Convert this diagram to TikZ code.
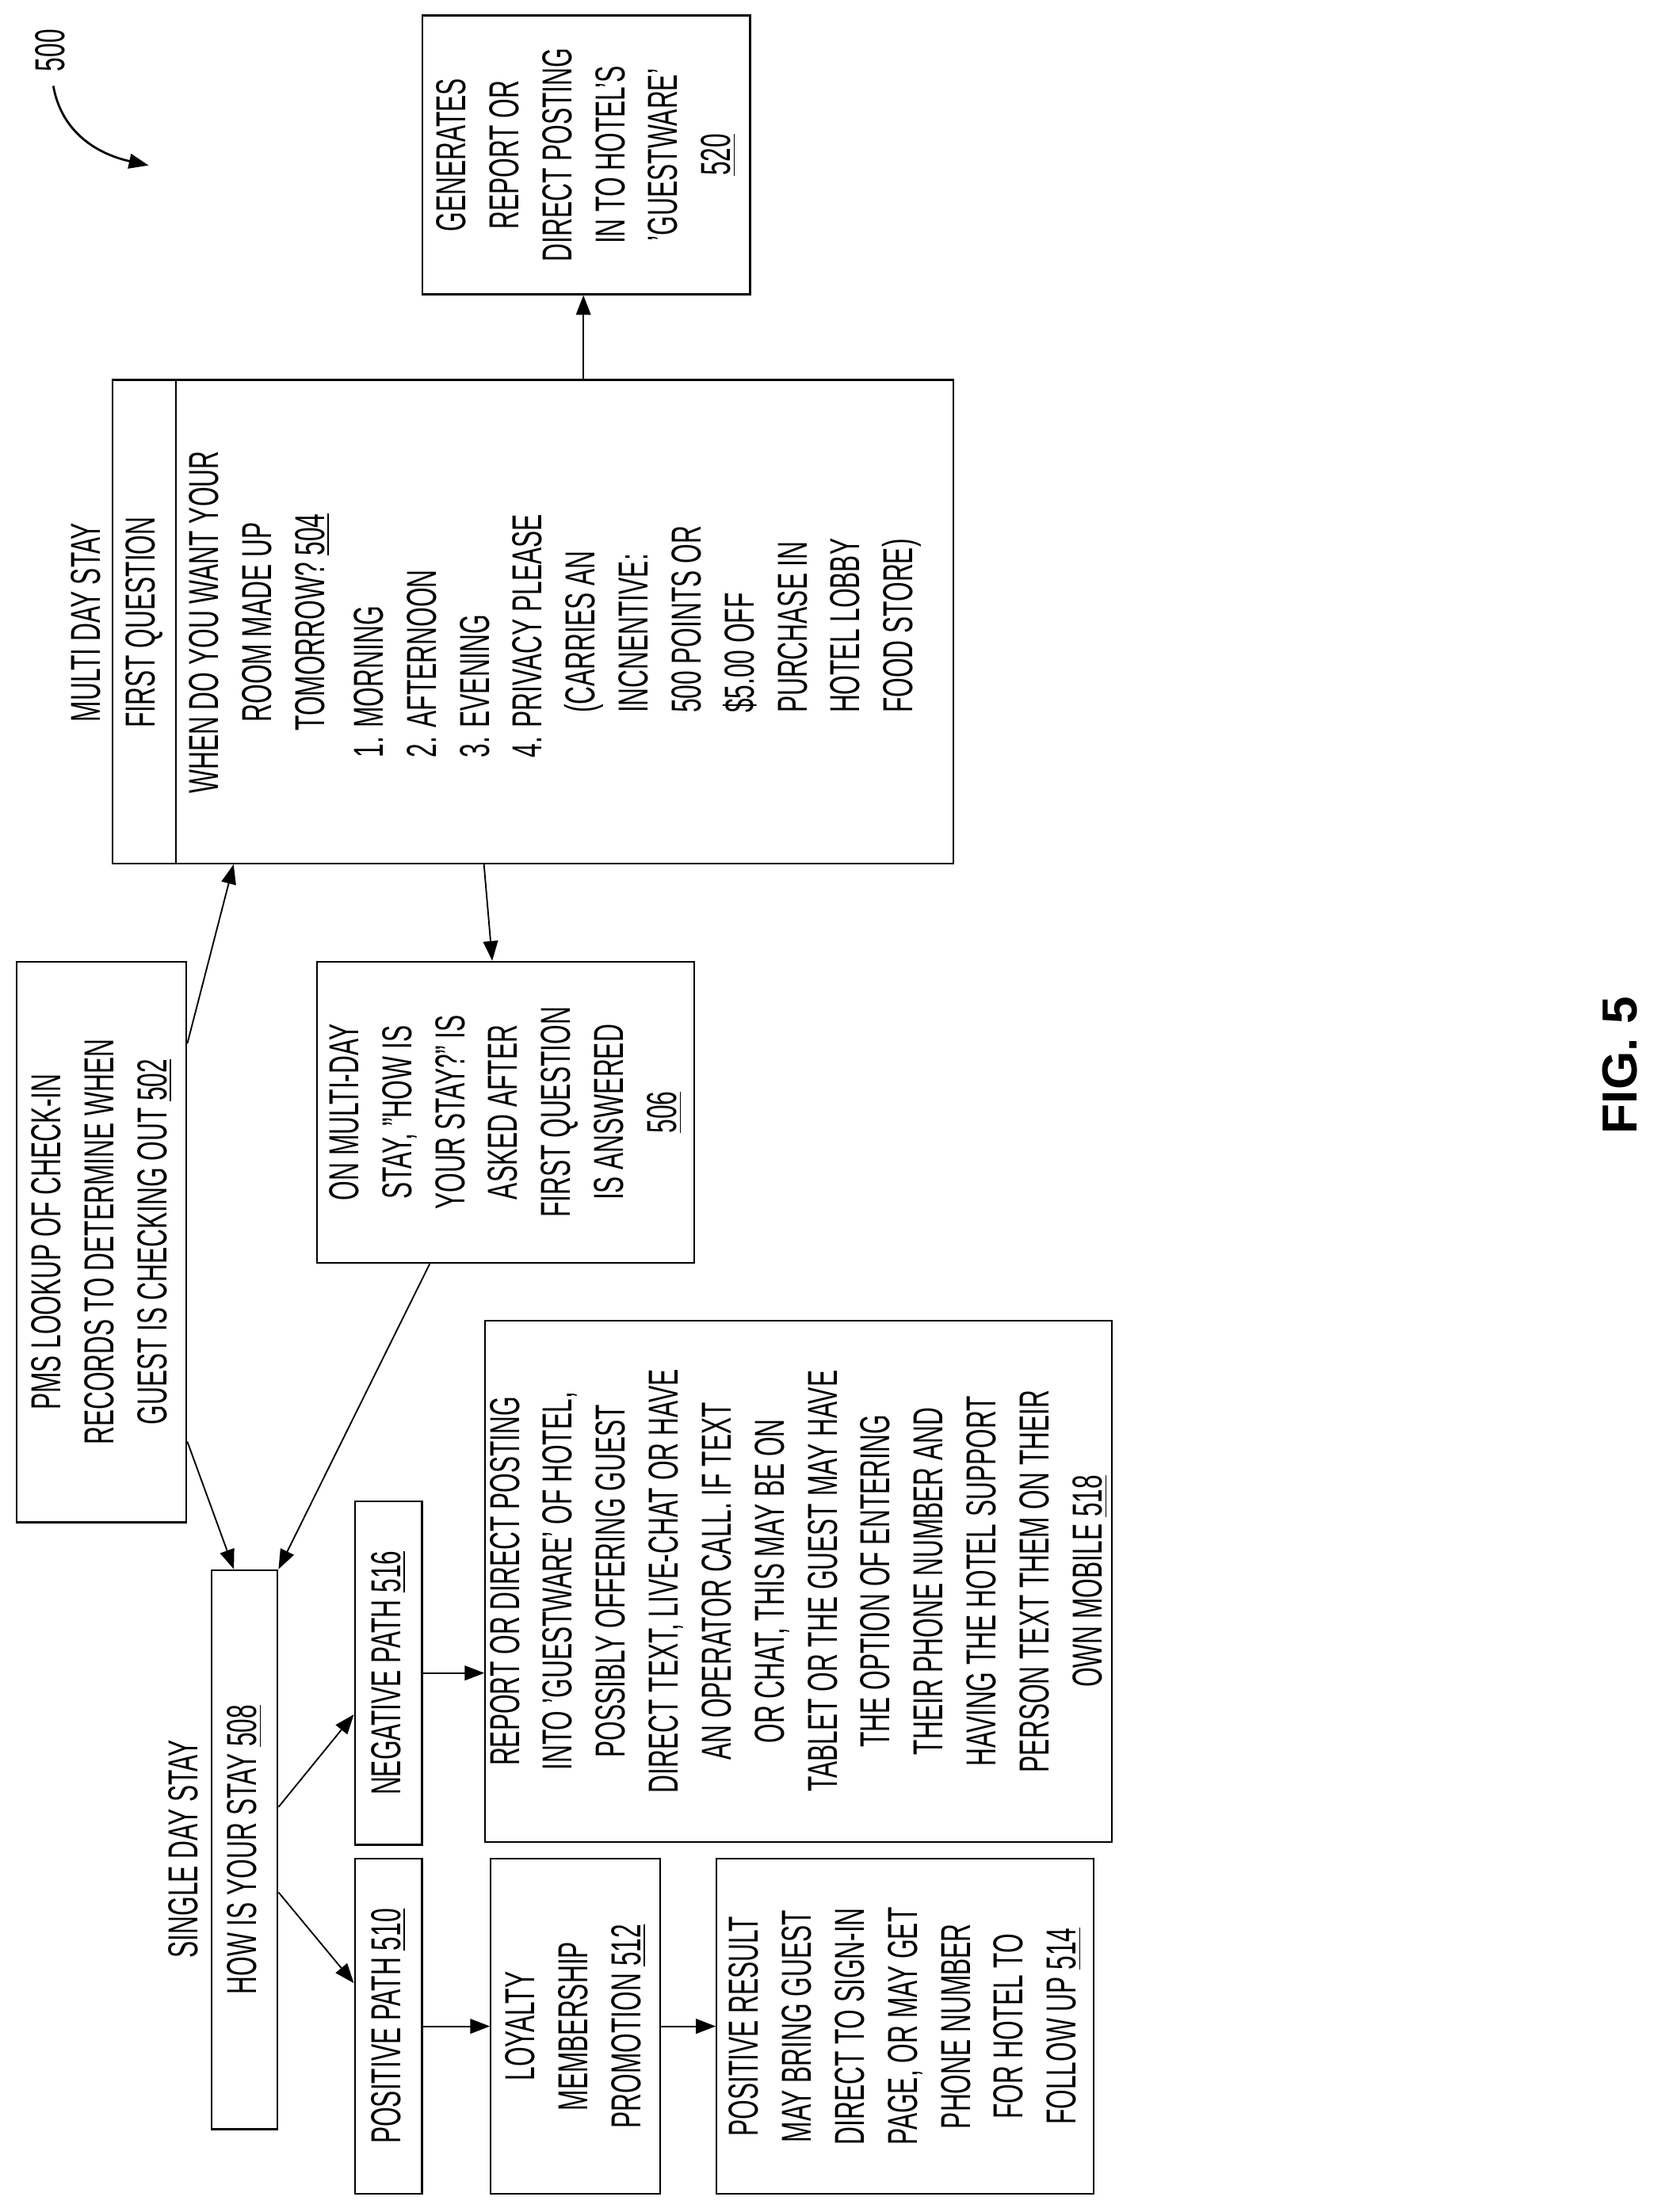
\documentclass[tikz,border=0pt]{standalone}
\usepackage{fontspec}
\setmainfont[FakeStretch=0.6]{Liberation Sans}
\newfontfamily\figfont{Liberation Sans}
\usetikzlibrary{calc,arrows.meta}
\begin{document}
\begin{tikzpicture}[x=0.02cm,y=0.02cm,
  box/.style={draw,line width=0.7pt,rotate=90,inner sep=0pt,align=center,font=\fontsize{17}{21.5}\selectfont},
  txt/.style={rotate=90,inner sep=0pt,font=\fontsize{17}{21.5}\selectfont},
  arr/.style={line width=0.6pt,-{Triangle[length=8pt,width=6pt]}}]
\useasboundingbox (0,0) rectangle (1190,-1578);
% boxes
\node[box,minimum width=3.98cm,minimum height=4.68cm] (n520) at (418,-110.5)
 {GENERATES\\REPORT OR\\DIRECT POSTING\\IN TO HOTEL'S\\'GUESTWARE'\\\underline{520}};
\node[box,minimum width=6.9cm,minimum height=12cm] (n504) at (380,-443.5) {};
\draw[line width=0.7pt] ($(n504.north west)+(46,0)$) -- ($(n504.north east)+(46,0)$);
\node[txt] (h504) at (61,-444) {MULTI DAY STAY};
\node[txt] (q504) at (103,-444) {FIRST QUESTION};
\node[txt,align=center] (w504) at (185,-444)
 {WHEN DO YOU WANT YOUR\\ROOM MADE UP\\TOMORROW? \underline{504}};
\node[txt,align=left,anchor=north west] (l504) at (252,-541)
 {1. MORNING\\2. AFTERNOON\\3. EVENING\\4. PRIVACY PLEASE\\\hspace*{0.64cm}(CARRIES AN\\\hspace*{0.64cm}INCNENTIVE:\\\hspace*{0.64cm}500 POINTS OR\\\hspace*{0.64cm}\$5.00 OFF\\\hspace*{0.64cm}PURCHASE IN\\\hspace*{0.64cm}HOTEL LOBBY\\\hspace*{0.64cm}FOOD STORE)};
\node[box,minimum width=8cm,minimum height=2.42cm] (n502) at (72.5,-886)
 {PMS LOOKUP OF CHECK-IN\\RECORDS TO DETERMINE WHEN\\GUEST IS CHECKING OUT \underline{502}};
\node[box,minimum width=4.3cm,minimum height=5.38cm] (n506) at (360.5,-793.5)
 {ON MULTI-DAY\\STAY, "HOW IS\\YOUR STAY?" IS\\ASKED AFTER\\FIRST QUESTION\\IS ANSWERED\\\underline{506}};
\node[txt] (h508) at (131,-1319) {SINGLE DAY STAY};
\node[box,minimum width=7.98cm,minimum height=0.94cm] (n508) at (174.5,-1319.5) {HOW IS YOUR STAY \underline{508}};
\node[box,minimum width=4.78cm,minimum height=0.96cm] (n510) at (277,-1445.5) {POSITIVE PATH \underline{510}};
\node[box,minimum width=4.9cm,minimum height=0.96cm] (n516) at (277,-1193.5) {NEGATIVE PATH \underline{516}};
\node[box,minimum width=4.78cm,minimum height=2.42cm] (n512) at (410.5,-1445.5) {LOYALTY\\MEMBERSHIP\\PROMOTION \underline{512}};
\node[box,minimum width=4.78cm,minimum height=5.38cm] (n514) at (645.5,-1445.5)
 {POSITIVE RESULT\\MAY BRING GUEST\\DIRECT TO SIGN-IN\\PAGE, OR MAY GET\\PHONE NUMBER\\FOR HOTEL TO\\FOLLOW UP \underline{514}};
\node[box,minimum width=7.44cm,minimum height=8.94cm] (n518) at (569.5,-1128)
 {REPORT OR DIRECT POSTING\\INTO 'GUESTWARE' OF HOTEL,\\POSSIBLY OFFERING GUEST\\DIRECT TEXT, LIVE-CHAT OR HAVE\\AN OPERATOR CALL. IF TEXT\\OR CHAT, THIS MAY BE ON\\TABLET OR THE GUEST MAY HAVE\\THE OPTION OF ENTERING\\THEIR PHONE NUMBER AND\\HAVING THE HOTEL SUPPORT\\PERSON TEXT THEM ON THEIR\\OWN MOBILE \underline{518}};
\node[txt,font=\figfont\bfseries\fontsize{20}{24}\selectfont] (fig) at (1155,-760) {FIG. 5};
\node[txt] (l500) at (36,-36) {500};
\coordinate (e500) at (106,-118);
\draw[arr,line width=0.9pt] ($(l500.west)+(2,-10)$) .. controls (44,-95) and (70,-110) .. (e500);
% connectors
\draw[arr] ($(n502.south west)!0.853!(n502.south east)$) -- ($(n504.north west)!0.145!(n504.south west)$);
\draw[arr] ($(n502.south west)!0.145!(n502.south east)$) -- ($(n508.north east)!0.34!(n508.south east)$);
\draw[arr] ($(n504.north west)!0.442!(n504.south west)$) -- ($(n506.north east)!0.465!(n506.south east)$);
\coordinate (s520) at ($(n504.north east)!0.56!(n504.south east)$);
\draw[arr] (s520) -- ($(n520.north west)!(s520)!(n520.south west)$);
\draw[arr] ($(n506.north west)!0.30!(n506.south west)$) -- (n508.south east);
\draw[arr] ($(n508.south west)!0.576!(n508.south east)$) -- ($(n516.north west)!0.38!(n516.north east)$);
\draw[arr] ($(n508.south west)!0.424!(n508.south east)$) -- ($(n510.north west)!0.628!(n510.north east)$);
\draw[arr] (n516.south) -- ($(n518.north west)!(n516.south)!(n518.north east)$);
\draw[arr] (n510.south) -- ($(n512.north west)!(n510.south)!(n512.north east)$);
\draw[arr] (n512.south) -- ($(n514.north west)!(n512.south)!(n514.north east)$);
\end{tikzpicture}
\end{document}
